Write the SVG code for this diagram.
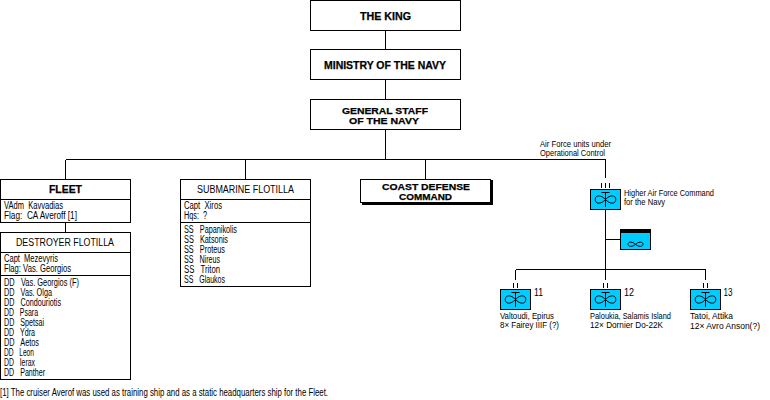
<svg xmlns="http://www.w3.org/2000/svg" width="770" height="400" viewBox="0 0 770 400">
<style>
text{font-family:"Liberation Sans",Arial,sans-serif;font-size:10px;fill:#000;white-space:pre}
.b{font-weight:bold;font-size:11px;stroke:#000;stroke-width:.25}
.c{font-weight:bold;font-size:9.500px;stroke:#000;stroke-width:.25}
.s{font-size:9px}
.box{fill:#fff;stroke:#000;stroke-width:1;shape-rendering:crispEdges}
.cy{fill:#00ccff;stroke:#000;stroke-width:1;shape-rendering:crispEdges}
.ln{fill:none;stroke:#000;stroke-width:1;shape-rendering:crispEdges}
.ic{fill:none;stroke:#000;stroke-width:1}
</style>
<defs>
<g id="wing"><rect class="cy" x=".5" y=".5" width="30" height="20"/><path class="ic" d="M15.5 3V18M11.5 3.5H19.5M15.5 10.5C12 7 9.500 6.500 7.500 7C4.500 8 4.500 13 7.500 14C9.500 14.500 12 14 15.500 10.500C19 7 21.500 6.500 23.500 7C26.500 8 26.500 13 23.500 14C21.500 14.500 19 14 15.500 10.500Z"/></g>
</defs>
<rect width="770" height="400" fill="#fff"/>
<g id="connectors">
<path class="ln" d="M385.500 30V49M385.500 79V99M385.500 129V159.500M65.500 159.500H605.500M65.500 159.500V179M65.500 222V232M245.500 159.500V179M425.500 159.500V179M605.500 159.500V178M605.500 210V269.500M605.500 239.500H620M515.500 269.500H705.500M515.500 269.500V280M605.500 269.500V280M705.500 269.500V280"/>
<path class="ln" d="M601.500 183V188M605.500 183V188M609.500 183V188M513.500 283V288M517.500 283V288M603.500 283V288M607.500 283V288M703.500 283V288M707.500 283V288"/>
</g>
<g id="king"><rect class="box" x="310.500" y="0.500" width="150" height="30"/><text class="b" x="360" y="20" textLength="51" lengthAdjust="spacingAndGlyphs">THE KING</text></g>
<g id="ministry"><rect class="box" x="310.500" y="49.500" width="150" height="30"/><text class="b" x="324" y="69" textLength="122" lengthAdjust="spacingAndGlyphs">MINISTRY OF THE NAVY</text></g>
<g id="general-staff"><rect class="box" x="310.500" y="99.500" width="150" height="30"/><text class="c" x="342" y="114" textLength="86" lengthAdjust="spacingAndGlyphs">GENERAL STAFF</text><text class="c" x="349" y="124" textLength="70" lengthAdjust="spacingAndGlyphs">OF THE NAVY</text></g>
<g id="fleet"><rect class="box" x="0.500" y="179.500" width="130" height="43"/><path class="ln" d="M0 199.500H130"/><text class="b" x="49" y="193" textLength="33" lengthAdjust="spacingAndGlyphs">FLEET</text><text x="4" y="209" textLength="59" lengthAdjust="spacingAndGlyphs">VAdm  Kavvadias</text><text x="4" y="219" textLength="73" lengthAdjust="spacingAndGlyphs">Flag:  CA Averoff [1]</text></g>
<g id="destroyer-flotilla"><rect class="box" x="0.500" y="232.500" width="130" height="147"/><path class="ln" d="M0 252.500H130M0 275.500H130"/><text x="16" y="246" textLength="98" lengthAdjust="spacingAndGlyphs">DESTROYER FLOTILLA</text><text x="4" y="262" textLength="54" lengthAdjust="spacingAndGlyphs">Capt  Mezevyris</text><text x="4" y="272" textLength="67" lengthAdjust="spacingAndGlyphs">Flag: Vas. Georgios</text>
<text x="4" y="286" textLength="75" lengthAdjust="spacingAndGlyphs">DD   Vas. Georgios (F)</text>
<text x="4" y="296" textLength="48" lengthAdjust="spacingAndGlyphs">DD   Vas. Olga</text>
<text x="4" y="306" textLength="57" lengthAdjust="spacingAndGlyphs">DD   Condouriotis</text>
<text x="4" y="316" textLength="34" lengthAdjust="spacingAndGlyphs">DD   Psara</text>
<text x="4" y="326" textLength="40" lengthAdjust="spacingAndGlyphs">DD   Spetsai</text>
<text x="4" y="336" textLength="31" lengthAdjust="spacingAndGlyphs">DD   Ydra</text>
<text x="4" y="346" textLength="35" lengthAdjust="spacingAndGlyphs">DD   Aetos</text>
<text x="4" y="356" textLength="30" lengthAdjust="spacingAndGlyphs">DD   Leon</text>
<text x="4" y="366" textLength="31" lengthAdjust="spacingAndGlyphs">DD   Ierax</text>
<text x="4" y="376" textLength="41" lengthAdjust="spacingAndGlyphs">DD   Panther</text></g>
<g id="submarine-flotilla"><rect class="box" x="180.500" y="179.500" width="130" height="107"/><path class="ln" d="M180 199.500H310M180 222.500H310"/><text x="197" y="193" textLength="97" lengthAdjust="spacingAndGlyphs">SUBMARINE FLOTILLA</text><text x="184" y="209" textLength="38" lengthAdjust="spacingAndGlyphs">Capt  Xiros</text><text x="184" y="219" textLength="23" lengthAdjust="spacingAndGlyphs">Hqs:  ?</text>
<text x="184" y="233" textLength="53" lengthAdjust="spacingAndGlyphs">SS   Papanikolis</text>
<text x="184" y="243" textLength="44" lengthAdjust="spacingAndGlyphs">SS   Katsonis</text>
<text x="184" y="253" textLength="41" lengthAdjust="spacingAndGlyphs">SS   Proteus</text>
<text x="184" y="263" textLength="36" lengthAdjust="spacingAndGlyphs">SS   Nireus</text>
<text x="184" y="273" textLength="36" lengthAdjust="spacingAndGlyphs">SS   Triton</text>
<text x="184" y="283" textLength="41" lengthAdjust="spacingAndGlyphs">SS   Glaukos</text></g>
<g id="coast-defense"><rect x="362" y="180" width="131" height="25" fill="#000"/><rect class="box" x="360.500" y="179.500" width="130" height="23"/><text class="c" x="382" y="190" textLength="88" lengthAdjust="spacingAndGlyphs">COAST DEFENSE</text><text class="c" x="399" y="199.500" textLength="53" lengthAdjust="spacingAndGlyphs">COMMAND</text></g>
<g id="air-note"><text class="s" x="540" y="146.500" textLength="71" lengthAdjust="spacingAndGlyphs">Air Force units under</text><text class="s" x="540" y="155.500" textLength="65" lengthAdjust="spacingAndGlyphs">Operational Control</text></g>
<g id="air-command"><use href="#wing" x="590" y="189"/><text class="s" x="624" y="195.500" textLength="90" lengthAdjust="spacingAndGlyphs">Higher Air Force Command</text><text class="s" x="624" y="204.500" textLength="41" lengthAdjust="spacingAndGlyphs">for the Navy</text></g>
<g id="air-staff"><rect class="cy" x="620.500" y="229.500" width="30" height="20"/><rect x="620" y="229" width="31" height="4" fill="#000"/><path class="ic" d="M635.500 244.300C633 242 631 242 629.500 242.300C627.500 243 627.500 245.500 629.500 246.200C631 246.500 633 246.500 635.500 244.300C638 242 640 242 641.500 242.300C643.500 243 643.500 245.500 641.500 246.200C640 246.500 638 246.500 635.500 244.300Z"/></g>
<g id="unit-11"><use href="#wing" x="500" y="289"/><text x="534" y="295.500" textLength="9" lengthAdjust="spacingAndGlyphs">11</text><text class="s" x="500" y="318.500" textLength="54" lengthAdjust="spacingAndGlyphs">Valtoudi, Epirus</text><text class="s" x="500" y="328" textLength="59" lengthAdjust="spacingAndGlyphs">8× Fairey IIIF (?)</text></g>
<g id="unit-12"><use href="#wing" x="590" y="289"/><text x="624" y="295.500" textLength="10" lengthAdjust="spacingAndGlyphs">12</text><text class="s" x="590" y="318.500" textLength="81" lengthAdjust="spacingAndGlyphs">Paloukia, Salamis Island</text><text class="s" x="590" y="328" textLength="73" lengthAdjust="spacingAndGlyphs">12× Dornier Do-22K</text></g>
<g id="unit-13"><use href="#wing" x="690" y="289"/><text x="723.500" y="295.500" textLength="9" lengthAdjust="spacingAndGlyphs">13</text><text class="s" x="690" y="318.500" textLength="43" lengthAdjust="spacingAndGlyphs">Tatoi, Attika</text><text class="s" x="690" y="329" textLength="70" lengthAdjust="spacingAndGlyphs">12× Avro Anson(?)</text></g>
<text id="footnote" x="0" y="396" textLength="328" lengthAdjust="spacingAndGlyphs">[1] The cruiser Averof was used as training ship and as a static headquarters ship for the Fleet.</text>
</svg>
